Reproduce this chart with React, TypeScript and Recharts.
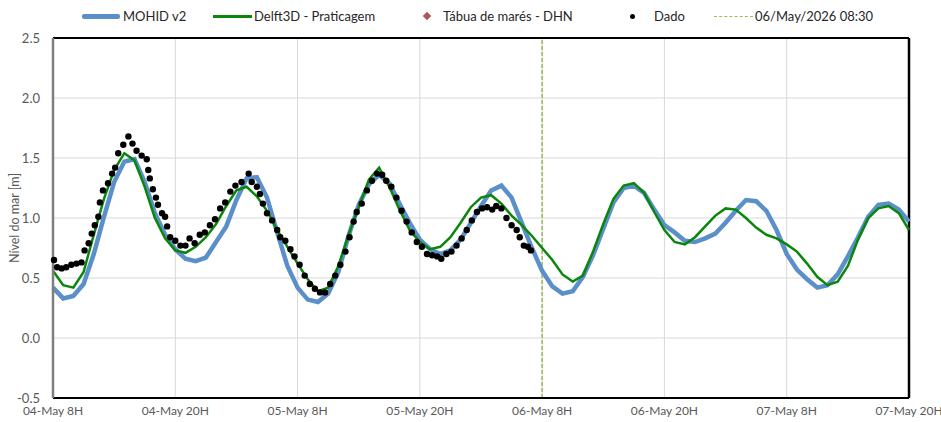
import { ComposedChart, Line, Scatter, XAxis, YAxis, CartesianGrid, ReferenceLine } from 'recharts'

const FONT = "Lato, 'Liberation Sans', sans-serif"

// hours since 04-May 08:30, one model value per hour
const HOURS = Array.from({ length: 85 }, (_, i) => i)

const MOHID = [
  0.42, 0.33, 0.35, 0.45, 0.70, 1.01, 1.30, 1.47, 1.49, 1.30,
  1.04, 0.86, 0.74, 0.66, 0.64, 0.67, 0.80, 0.93, 1.15, 1.33,
  1.34, 1.17, 0.88, 0.60, 0.42, 0.32, 0.30, 0.37, 0.55, 0.85,
  1.11, 1.28, 1.36, 1.29, 1.12, 0.96, 0.82, 0.74, 0.70, 0.73,
  0.82, 0.96, 1.10, 1.23, 1.27, 1.17, 0.96, 0.75, 0.56, 0.43,
  0.37, 0.39, 0.51, 0.69, 0.91, 1.13, 1.25, 1.27, 1.21, 1.07,
  0.94, 0.88, 0.81, 0.80, 0.83, 0.87, 0.96, 1.06, 1.15, 1.14,
  1.06, 0.90, 0.70, 0.57, 0.49, 0.42, 0.44, 0.53, 0.68, 0.84,
  1.01, 1.11, 1.12, 1.07, 0.97,
]

const DELFT = [
  0.56, 0.44, 0.42, 0.55, 0.86, 1.16, 1.40, 1.54, 1.48, 1.26,
  1.00, 0.83, 0.73, 0.71, 0.76, 0.84, 0.95, 1.10, 1.23, 1.26,
  1.18, 1.06, 0.90, 0.76, 0.62, 0.49, 0.39, 0.42, 0.60, 0.86,
  1.09, 1.32, 1.42, 1.26, 1.07, 0.90, 0.80, 0.74, 0.76, 0.84,
  0.96, 1.09, 1.17, 1.19, 1.12, 1.02, 0.94, 0.85, 0.75, 0.65,
  0.53, 0.47, 0.52, 0.72, 0.95, 1.16, 1.27, 1.29, 1.21, 1.05,
  0.90, 0.80, 0.78, 0.84, 0.93, 1.02, 1.08, 1.07, 1.00, 0.92,
  0.86, 0.83, 0.78, 0.72, 0.62, 0.51, 0.44, 0.47, 0.60, 0.82,
  1.00, 1.08, 1.10, 1.04, 0.90,
]

// observed levels (Dado)
const OBS_HOURS = [
  0.1, 0.4, 0.85, 1.3, 1.8, 2.3, 2.8, 3.1, 3.5, 3.8,
  4.1, 4.45, 4.6, 4.9, 5.4, 5.8, 6.1, 6.4, 6.9, 7.4,
  7.8, 8.2, 8.7, 9.2, 9.35, 9.5, 9.8, 10.1, 10.3, 10.7,
  11.0, 11.2, 11.5, 12.0, 12.5, 13.0, 13.4, 13.9, 14.4, 14.9,
  15.4, 15.9, 16.4, 16.9, 17.4, 17.9, 18.5, 19.2, 19.5, 20.0,
  20.3, 20.6, 21.0, 21.5, 22.0, 22.3, 22.8, 23.3, 23.7, 24.2,
  24.7, 25.2, 25.7, 26.2, 26.7, 27.2, 27.7, 28.2, 28.7, 29.1,
  29.5, 29.8, 30.3, 30.8, 31.3, 31.8, 32.3, 32.7, 33.2, 33.7,
  34.2, 34.7, 35.2, 35.7, 36.2, 36.7, 37.2, 37.7, 38.1, 38.6,
  39.1, 39.6, 40.1, 40.6, 41.1, 41.6, 42.1, 42.6, 43.1, 43.5,
  44.0, 44.5, 45.0, 45.5, 45.8, 46.2, 46.6, 46.9,
]
const OBS_LEVEL = [
  0.65, 0.59, 0.58, 0.59, 0.61, 0.62, 0.63, 0.73, 0.79, 0.87,
  0.94, 1.01, 1.13, 1.23, 1.29, 1.37, 1.42, 1.54, 1.61, 1.68,
  1.62, 1.56, 1.52, 1.49, 1.40, 1.33, 1.24, 1.17, 1.11, 1.04,
  1.01, 0.93, 0.84, 0.81, 0.77, 0.77, 0.83, 0.79, 0.86, 0.88,
  0.94, 0.99, 1.08, 1.13, 1.22, 1.27, 1.30, 1.37, 1.30, 1.26,
  1.20, 1.12, 1.04, 0.98, 0.90, 0.84, 0.81, 0.74, 0.68, 0.61,
  0.52, 0.45, 0.41, 0.38, 0.38, 0.45, 0.52, 0.61, 0.72, 0.84,
  0.97, 1.05, 1.12, 1.23, 1.31, 1.37, 1.36, 1.31, 1.26, 1.17,
  1.06, 0.97, 0.88, 0.80, 0.76, 0.70, 0.69, 0.68, 0.66, 0.70,
  0.72, 0.77, 0.83, 0.90, 0.98, 1.05, 1.08, 1.09, 1.07, 1.10,
  1.08, 1.00, 0.94, 0.90, 0.84, 0.77, 0.76, 0.73,
]

const TICK_HOURS = [0, 12, 24, 36, 48, 60, 72, 84]
const TICK_LABELS = ['04-May 8H', '04-May 20H', '05-May 8H', '05-May 20H', '06-May 8H', '06-May 20H', '07-May 8H', '07-May 20H']
const Y_TICKS = [-0.5, 0, 0.5, 1, 1.5, 2, 2.5]
const X_MAX = 84
const Y_MAX = 2.5
const NOW_HOUR = 48
const NOW_LABEL = '06/May/2026 08:30'

const BLUE = '#5b8fca'
const GREEN = '#0a870a'
const DASH = '#9bbb59'

const ObsDot = (props: any) => {
  const { cx, cy } = props
  if (cx == null || cy == null) return null
  return <circle cx={cx} cy={cy} r={3.2} fill="#000" />
}

function ChartLegend() {
  const text = { position: 'absolute' as const, top: 8, fontSize: 13, color: '#262626', lineHeight: '16px', whiteSpace: 'nowrap' as const }
  return (
    <>
      <div style={{ position: 'absolute', left: 82, top: 14, width: 38, height: 5, background: BLUE, borderRadius: 2 }} />
      <div style={{ ...text, left: 123 }}>MOHID v2</div>
      <div style={{ position: 'absolute', left: 213, top: 15, width: 39, height: 3, background: GREEN }} />
      <div style={{ ...text, left: 254 }}>Delft3D - Praticagem</div>
      <div style={{ position: 'absolute', left: 424, top: 13, width: 6, height: 6, background: '#b5545c', transform: 'rotate(45deg)' }} />
      <div style={{ ...text, left: 443 }}>Tábua de marés - DHN</div>
      <div style={{ position: 'absolute', left: 630, top: 14, width: 5, height: 5, background: '#000', borderRadius: '50%' }} />
      <div style={{ ...text, left: 654 }}>Dado</div>
      <div style={{ position: 'absolute', left: 714, top: 16, width: 39, height: 0, borderTop: `1.5px dashed ${DASH}` }} />
      <div style={{ ...text, left: 755 }}>{NOW_LABEL}</div>
    </>
  )
}

export default function App() {
  const modelData = HOURS.map((h, i) => ({ h, mohid: MOHID[i], delft: DELFT[i] }))
  const obsData = OBS_HOURS.map((h, i) => ({ h, dado: OBS_LEVEL[i] }))

  return (
    <div style={{ position: 'absolute', left: 0, top: 0, width: 941, height: 422, background: '#fff', fontFamily: FONT }}>
      <ChartLegend />
      <ComposedChart width={941} height={422} data={modelData} margin={{ top: 38, right: 32, left: 0, bottom: 0 }}>
        <CartesianGrid stroke="#d9d9d9" strokeWidth={1} />
        <XAxis
          dataKey="h"
          type="number"
          domain={[0, X_MAX]}
          ticks={TICK_HOURS}
          interval={0}
          tickFormatter={v => TICK_LABELS[TICK_HOURS.indexOf(v)] ?? ''}
          height={24}
          tickLine={false}
          axisLine={{ stroke: '#000', strokeWidth: 2 }}
          tick={{ fontSize: 12, fill: '#595959', fontFamily: FONT }}
        />
        <YAxis
          type="number"
          domain={[-0.5, Y_MAX]}
          ticks={Y_TICKS}
          interval={0}
          width={53}
          tickLine={false}
          tickMargin={7}
          axisLine={{ stroke: '#7f7f7f', strokeWidth: 2.5 }}
          tickFormatter={v => v.toFixed(1)}
          tick={{ fontSize: 13, fill: '#595959', fontFamily: FONT }}
          label={{ value: 'Nível do mar [m]', angle: -90, position: 'insideLeft', offset: 15, style: { textAnchor: 'middle', fontSize: 12.5, fill: '#595959', fontFamily: FONT } }}
        />
        <ReferenceLine y={Y_MAX} stroke="#000" strokeWidth={2} />
        <ReferenceLine x={X_MAX} stroke="#000" strokeWidth={2.5} />
        <ReferenceLine x={NOW_HOUR} stroke={DASH} strokeWidth={1.5} strokeDasharray="4 2" />
        <Line type="linear" dataKey="mohid" stroke={BLUE} strokeWidth={4.5} dot={false} isAnimationActive={false} />
        <Line type="linear" dataKey="delft" stroke={GREEN} strokeWidth={2.5} dot={false} isAnimationActive={false} />
        <Scatter data={obsData} dataKey="dado" fill="#000" shape={ObsDot} isAnimationActive={false} />
      </ComposedChart>
    </div>
  )
}
